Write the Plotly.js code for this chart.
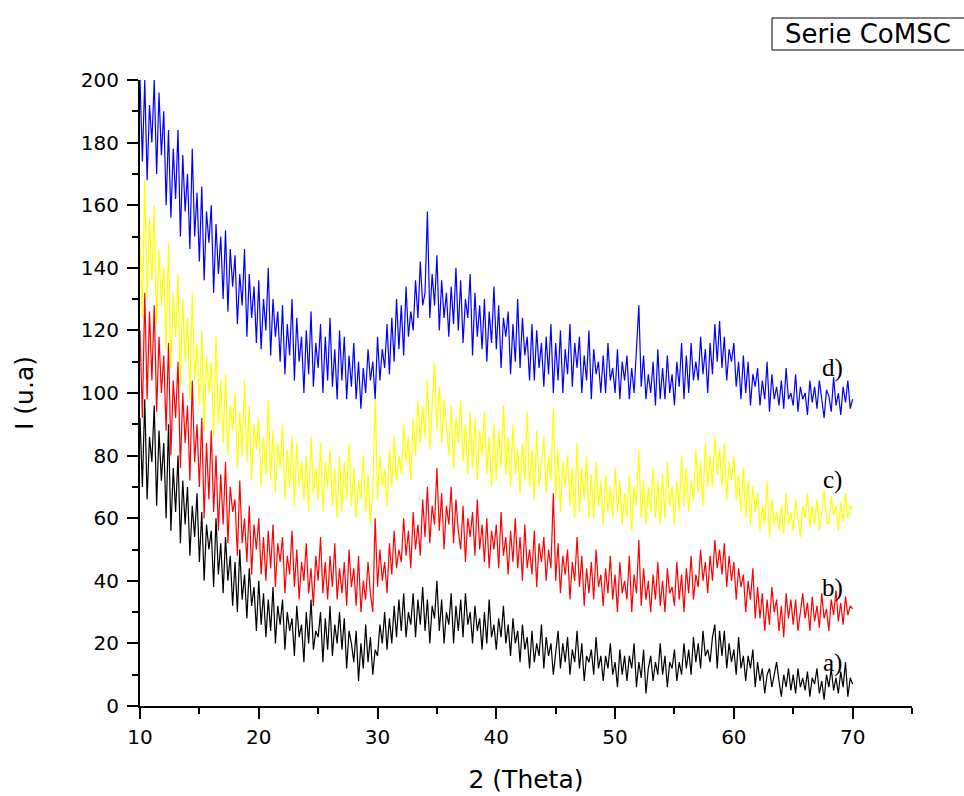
<!DOCTYPE html>
<html>
<head>
<meta charset="utf-8">
<script src="https://cdn.plot.ly/plotly-3.0.1.min.js"></script>
<style>html,body{margin:0;padding:0;background:#fff;}</style>
</head>
<body>
<div id="chart" style="width:964px;height:796px;"></div>
<script>
// 2-theta sampling of the read values (one value every 0.2 degree, 10 -> 70)
const thetaStart = 10;
const thetaStep = 0.2;

// a) black
const serieA = [
92,70,98,66,86, 78,96,64,88,72, 84,60,90,56,76, 62,80,52,72,58, 70,48,64,54,68,
46,62,40,58,50, 56,38,60,42,52, 36,54,40,48,32, 46,30,50,34,42, 28,44,32,38,24,
40,26,36,22,34, 24,38,20,32,26, 34,18,30,24,28, 16,32,22,26,14, 30,20,34,18,24,
22,30,14,28,18, 32,16,26,20,30, 18,28,12,24,20, 14,24,8,20,12, 26,14,22,10,18,
16,26,20,30,18, 28,20,32,22,34, 24,36,22,30,26, 36,22,34,26,38, 24,34,20,32,28,
40,24,34,20,30, 26,36,20,32,24, 34,22,36,26,30, 20,32,24,28,18, 30,20,34,22,26,
18,28,22,32,20, 26,16,28,20,24, 14,26,18,22,12, 24,14,20,16,26, 12,22,16,20,10,
18,24,12,20,14, 22,10,18,14,24, 12,20,8,16,14, 18,10,22,12,16, 8,16,12,20,10,
14,6,18,10,16, 8,16,12,20,6, 14,9,18,4,12, 16,8,14,10,20, 10,16,6,14,12,
18,8,14,10,20, 12,18,10,22,14, 20,12,24,16,18, 14,22,26,12,24, 16,24,12,20,14,
18,10,22,12,16, 8,16,12,18,6, 14,8,12,4,10, 12,6,10,14,8, 3,10,6,12,5,
10,4,12,6,9, 5,11,3,9,7, 12,4,8,2,10, 6,12,5,9,4, 11,6,14,3,9, 7
];

// b) red
const serieB = [
120,92,132,98,126, 104,128,94,118,100, 112,88,116,80,104, 92,110,76,100,84, 96,72,104,78,90,
70,92,60,84,66, 88,62,80,56,74, 58,78,52,70,62, 66,48,72,52,60, 46,64,42,58,50,
60,42,54,40,56, 44,58,38,52,46, 54,36,48,42,56, 38,50,34,46,40, 52,36,44,32,48,
40,54,36,46,34, 48,38,52,34,44, 36,46,32,50,38, 44,32,48,30,40, 34,46,36,30,60,
38,50,40,46,36, 52,42,56,44,50, 46,60,48,56,44, 62,50,58,48,66, 54,70,52,64,58,
76,56,68,50,64, 58,70,52,66,56, 50,64,46,60,54, 62,48,66,50,58, 46,60,44,56,50,
58,44,62,48,54, 42,56,46,60,44, 54,40,58,44,50, 42,56,38,52,46, 54,40,50,44,68,
40,52,36,48,42, 50,34,46,40,54, 38,48,32,44,36, 46,34,50,38,42, 32,44,36,48,34,
42,30,46,36,40, 34,48,30,42,36, 53,32,44,34,40, 30,42,34,46,32, 40,30,44,36,38,
32,46,34,42,30, 44,36,48,34,42, 38,50,40,46,36, 48,40,53,44,50, 42,52,38,48,40,
46,34,44,38,42, 30,40,34,44,28, 38,28,36,24,34, 26,38,30,34,24, 32,22,36,28,34,
26,34,24,30,36, 28,33,24,35,27, 32,25,36,28,31, 24,34,29,37,27, 33,26,35,29,32, 31
];

// c) yellow
const serieC = [
150,124,168,130,156, 136,160,122,146,128, 140,114,148,108,132, 118,138,102,130,110, 124,98,132,104,116,
96,120,88,112,100, 110,86,118,90,104, 84,106,80,96,88, 100,76,94,80,104, 78,96,72,90,82,
92,70,86,74,98, 72,88,68,84,76, 90,66,82,70,86, 64,84,70,78,66, 80,62,86,68,76,
66,84,62,78,70, 82,64,76,60,80, 62,78,66,84,64, 76,60,72,66,80, 62,74,58,70,98,
66,80,70,76,64, 82,70,86,72,80, 74,90,78,86,72, 92,80,98,84,96, 86,104,82,96,110,
88,102,84,98,90, 80,96,76,92,84, 98,78,90,74,94, 76,92,72,88,80, 94,74,86,70,90,
72,88,76,96,74, 86,70,90,74,82, 68,84,72,94,70, 82,66,88,70,78, 86,68,80,72,95,
66,82,62,78,70, 80,64,76,60,84, 62,76,66,80,60, 74,60,78,64,72, 58,74,62,70,60,
76,62,72,58,68, 60,74,56,70,64, 82,60,72,58,70, 62,76,60,72,58, 74,60,78,64,70,
58,72,62,80,64, 76,62,72,66,82, 68,78,64,84,70, 80,70,86,74,82, 70,84,66,78,72,
80,66,74,62,76, 60,72,58,70,62, 68,56,64,58,72, 54,66,58,62,56, 64,55,68,58,62,
56,66,60,54,64, 60,68,57,64,58, 66,56,62,69,59, 58,67,61,64,56, 65,59,68,60,64, 63
];

// d) blue
const serieD = [
200,174,200,168,192, 180,200,170,196,176, 190,160,184,156,178, 162,184,150,176,158, 170,146,178,150,164,
142,166,136,158,148, 160,132,154,138,150, 130,152,126,146,134, 144,122,138,128,146, 118,138,124,134,116,
136,114,130,120,140, 112,130,118,126,110, 128,106,122,112,130, 104,124,110,118,100, 120,106,126,102,116,
108,122,100,118,104, 124,102,114,98,120, 104,118,98,112,102, 116,98,110,95,108, 100,114,104,110,98,
118,104,114,108,122, 106,124,110,130,114, 128,112,134,118,126, 120,136,124,142,128, 132,158,124,138,128,
144,120,136,124,132, 118,134,122,140,120, 136,116,130,124,138, 112,132,118,128,114, 130,110,126,116,134,
114,128,108,124,118, 126,106,122,110,130, 108,124,112,118,104, 122,104,120,108,116, 102,118,106,122,100,
116,104,120,100,114, 106,122,102,116,108, 118,100,112,104,120, 98,114,106,110,100, 112,100,116,104,108,
100,114,98,110,104, 112,98,108,100,116, 128,102,112,98,106, 100,110,96,114,98, 108,98,112,100,106,
96,110,102,116,98, 112,100,116,104,110, 104,118,106,114,100, 116,106,122,110,123, 108,118,104,114,110,
116,102,110,98,112, 100,110,96,106,102, 108,96,104,98,110, 94,106,98,102,96, 104,95,108,98,100,
96,106,94,102,98, 100,93,104,97,102, 95,104,98,92,101, 99,94,105,96,100, 93,102,97,104,95, 98
];

const seriesNames = ['a)', 'b)', 'c)', 'd)'];
const seriesColors = ['#000000', '#ff0000', '#ffff00', '#0000ff'];
const seriesData = [serieA, serieB, serieC, serieD];
const labelX = [68.3, 68.3, 68.3, 68.3];
const labelY = [13.7, 37.7, 72.2, 108];
const legendText = 'Serie CoMSC';

const SANS = 'DejaVu Sans, Liberation Sans, Arial, sans-serif';

// pixel helpers for paper coordinates (plot area 140..912 x 80..706)
const px = v => (v - 140) / 772;
const py = v => (706 - v) / 626;

const traces = seriesData.map((ys, i) => ({
  type: 'scatter', mode: 'lines',
  x0: thetaStart, dx: thetaStep, y: ys,
  line: {color: seriesColors[i], width: 1.2},
  name: seriesNames[i], showlegend: false, hoverinfo: 'skip'
}));

const annotations = seriesNames.map((t, i) => ({
  x: labelX[i], y: labelY[i], xref: 'x', yref: 'y', text: t, showarrow: false,
  font: {family: 'Liberation Serif, Times New Roman, serif', size: 25, color: '#000'}
}));
annotations.push({
  xref: 'paper', yref: 'paper', x: px(783), y: py(34),
  xanchor: 'left', yanchor: 'middle', text: legendText, showarrow: false,
  font: {family: SANS, size: 26, color: '#000'}
});

const shapes = [{
  type: 'rect', xref: 'paper', yref: 'paper',
  x0: px(772), x1: px(1100), y0: py(50), y1: py(18),
  line: {color: '#000', width: 1}, fillcolor: 'rgba(0,0,0,0)', layer: 'above'
}];

const axisCommon = {
  showgrid: false, zeroline: false, showline: true, linecolor: '#000', linewidth: 2,
  ticks: 'outside', ticklen: 11, tickwidth: 2, tickcolor: '#000',
  tickfont: {family: SANS, size: 20, color: '#000'}
};

const layout = {
  width: 964, height: 796,
  margin: {l: 140, r: 52, t: 80, b: 90},
  paper_bgcolor: '#fff', plot_bgcolor: '#fff',
  showlegend: false,
  xaxis: Object.assign({}, axisCommon, {
    range: [10, 75], tick0: 10, dtick: 10, ticklabelstandoff: 1,
    minor: {dtick: 5, ticks: 'outside', ticklen: 6, tickwidth: 2, tickcolor: '#000', showgrid: false},
    title: {text: '2 (Theta)', standoff: 22, font: {family: SANS, size: 25, color: '#000'}}
  }),
  yaxis: Object.assign({}, axisCommon, {
    range: [0, 200], tick0: 0, dtick: 20, ticklabelstandoff: 4,
    minor: {dtick: 10, ticks: 'outside', ticklen: 6, tickwidth: 2, tickcolor: '#000', showgrid: false},
    title: {text: 'I (u.a)', standoff: 40, font: {family: SANS, size: 25, color: '#000'}}
  }),
  annotations: annotations,
  shapes: shapes
};

Plotly.newPlot('chart', traces, layout, {displayModeBar: false, staticPlot: true});
</script>
</body>
</html>
